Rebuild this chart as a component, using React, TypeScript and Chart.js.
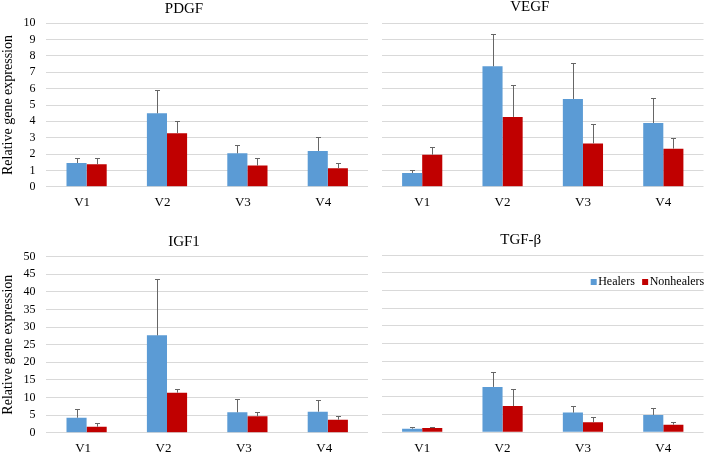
import React, { useEffect, useRef } from "react";
import { Chart, registerables } from "chart.js";

Chart.register(...registerables);

// ---------- data ----------
const visits = ["V1", "V2", "V3", "V4"];
const seriesNames = ["Healers", "Nonhealers"];
const seriesColors = ["#5B9BD5", "#C00000"];

const pdgfHealers = [1.45, 4.49, 2.04, 2.19];
const pdgfHealersErr = [0.28, 1.43, 0.51, 0.83];
const pdgfNonhealers = [1.37, 3.27, 1.29, 1.13];
const pdgfNonhealersErr = [0.36, 0.77, 0.49, 0.3];

const vegfHealers = [0.84, 7.37, 5.37, 3.9];
const vegfHealersErr = [0.18, 1.98, 2.18, 1.51];
const vegfNonhealers = [1.96, 4.27, 2.65, 2.33];
const vegfNonhealersErr = [0.47, 1.97, 1.19, 0.65];

const igf1Healers = [4.26, 27.65, 5.78, 5.97];
const igf1HealersErr = [2.37, 16.1, 3.78, 3.22];
const igf1Nonhealers = [1.7, 11.36, 4.64, 3.69];
const igf1NonhealersErr = [1.14, 1.04, 1.33, 0.95];

const tgfHealers = [1.03, 12.8, 5.55, 4.9];
const tgfHealersErr = [0.38, 4.1, 1.85, 1.9];
const tgfNonhealers = [1.22, 7.4, 2.8, 2.15];
const tgfNonhealersErr = [0.19, 4.7, 1.6, 0.75];

const yAxisTitle = "Relative gene expression";

const FONT = "'Liberation Serif', 'Times New Roman', serif";

// ---------- plugins ----------
const errorBarPlugin = {
  id: "errbars",
  afterDatasetsDraw(chart: any, _args: any, opts: any) {
    const errs: number[][] = opts.errors || [];
    const ctx = chart.ctx;
    const ys = chart.scales.y;
    ctx.save();
    ctx.strokeStyle = "#666666";
    ctx.lineWidth = 1;
    chart.data.datasets.forEach((ds: any, i: number) => {
      const meta = chart.getDatasetMeta(i);
      meta.data.forEach((bar: any, j: number) => {
        const e = errs[i] ? errs[i][j] : 0;
        if (!e) return;
        const v = ds.data[j];
        const x = Math.round(bar.x) + 0.5;
        const y0 = ys.getPixelForValue(v);
        const y1 = Math.round(ys.getPixelForValue(v + e)) + 0.5;
        ctx.beginPath();
        ctx.moveTo(x, y0);
        ctx.lineTo(x, y1);
        ctx.moveTo(x - 2.5, y1);
        ctx.lineTo(x + 2.5, y1);
        ctx.stroke();
      });
    });
    ctx.restore();
  },
};

const legendPlugin = {
  id: "customLegend",
  afterDraw(chart: any, _args: any, opts: any) {
    if (!opts || !opts.show) return;
    const ctx = chart.ctx;
    const area = chart.chartArea;
    ctx.save();
    ctx.font = `12px ${FONT}`;
    ctx.textBaseline = "middle";
    ctx.textAlign = "left";
    let x = area.right - 112.8;
    const cy = area.top + 27;
    chart.data.datasets.forEach((ds: any) => {
      ctx.fillStyle = ds.backgroundColor;
      ctx.fillRect(x, cy - 3, 6, 6);
      ctx.fillStyle = "#000";
      ctx.fillText(ds.label, x + 7.5, cy);
      x += 7.5 + ctx.measureText(ds.label).width + 7.3;
    });
    ctx.restore();
  },
};

// ---------- panel ----------
type PanelProps = {
  title: string;
  healers: number[];
  healersErr: number[];
  nonhealers: number[];
  nonhealersErr: number[];
  max: number;
  step: number;
  showTicks: boolean;
  left: number;
  top: number;
  width: number;
  height: number;
  yWidth: number;
  xHeight: number;
  padRight: number;
  titleTop: number;
  titleBottom: number;
  labelOffset: number;
  showLegend?: boolean;
};

function Panel(p: PanelProps) {
  const ref = useRef<HTMLCanvasElement | null>(null);
  useEffect(() => {
    if (!ref.current) return;
    const chart = new Chart(ref.current, {
      type: "bar",
      data: {
        labels: visits,
        datasets: [
          {
            label: seriesNames[0],
            data: p.healers,
            backgroundColor: seriesColors[0],
            categoryPercentage: 0.5,
            barPercentage: 1.0,
          },
          {
            label: seriesNames[1],
            data: p.nonhealers,
            backgroundColor: seriesColors[1],
            categoryPercentage: 0.5,
            barPercentage: 1.0,
          },
        ],
      },
      options: {
        animation: false,
        responsive: false,
        devicePixelRatio: 1,
        layout: { padding: { left: 0, right: p.padRight, top: 0, bottom: 0 } },
        plugins: {
          legend: { display: false },
          tooltip: { enabled: false },
          title: {
            display: true,
            text: p.title,
            color: "#000",
            font: { family: FONT, size: 15, weight: "normal", lineHeight: 1.2 },
            padding: { top: p.titleTop, bottom: p.titleBottom },
          },
          errbars: { errors: [p.healersErr, p.nonhealersErr] },
          customLegend: { show: !!p.showLegend },
        } as any,
        scales: {
          x: {
            grid: { display: false, drawTicks: false },
            border: { display: false },
            ticks: {
              color: "#000",
              font: { family: FONT, size: 13 },
              padding: 8,
              labelOffset: p.labelOffset,
            },
            afterFit: (s: any) => {
              s.height = p.xHeight;
            },
          },
          y: {
            min: 0,
            max: p.max,
            grid: { color: "#d9d9d9", drawTicks: false, lineWidth: 1 },
            border: { display: false },
            ticks: {
              display: p.showTicks,
              stepSize: p.step,
              autoSkip: false,
              color: "#000",
              font: { family: FONT, size: 12 },
              padding: 11,
            },
            title: {
              display: p.showTicks,
              text: yAxisTitle,
              color: "#000",
              font: { family: FONT, size: 14 },
              padding: { top: 0, bottom: 0 },
            },
            afterFit: (s: any) => {
              s.width = p.yWidth;
            },
          },
        },
      } as any,
      plugins: [errorBarPlugin, legendPlugin],
    });
    return () => chart.destroy();
  }, []);
  return (
    <canvas
      ref={ref}
      width={p.width}
      height={p.height}
      style={{ position: "absolute", left: p.left, top: p.top, width: p.width, height: p.height }}
    />
  );
}

export default function App() {
  return (
    <div
      style={{
        position: "absolute",
        left: 0,
        top: 0,
        width: 709,
        height: 452,
        overflow: "hidden",
        background: "#fff",
      }}
    >
      <Panel
        title="PDGF"
        healers={pdgfHealers}
        healersErr={pdgfHealersErr}
        nonhealers={pdgfNonhealers}
        nonhealersErr={pdgfNonhealersErr}
        max={10}
        step={1}
        showTicks={true}
        left={0}
        top={0}
        width={388}
        height={215}
        yWidth={46.4}
        xHeight={28.3}
        padRight={20}
        titleTop={0}
        titleBottom={5.3}
        labelOffset={-4.5}
      />
      <Panel
        title="VEGF"
        healers={vegfHealers}
        healersErr={vegfHealersErr}
        nonhealers={vegfNonhealers}
        nonhealersErr={vegfNonhealersErr}
        max={10}
        step={1}
        showTicks={false}
        left={356}
        top={-2}
        width={348}
        height={217}
        yWidth={26}
        xHeight={28.3}
        padRight={0.5}
        titleTop={0.3}
        titleBottom={7}
        labelOffset={0}
      />
      <Panel
        title="IGF1"
        healers={igf1Healers}
        healersErr={igf1HealersErr}
        nonhealers={igf1Nonhealers}
        nonhealersErr={igf1NonhealersErr}
        max={50}
        step={5}
        showTicks={true}
        left={0}
        top={225}
        width={384}
        height={236}
        yWidth={46.4}
        xHeight={28.3}
        padRight={16}
        titleTop={7.7}
        titleBottom={6}
        labelOffset={-3.5}
      />
      <Panel
        title="TGF-β"
        healers={tgfHealers}
        healersErr={tgfHealersErr}
        nonhealers={tgfNonhealers}
        nonhealersErr={tgfNonhealersErr}
        max={50}
        step={5}
        showTicks={false}
        left={338}
        top={225}
        width={371}
        height={236}
        yWidth={44}
        xHeight={28.7}
        padRight={5.5}
        titleTop={6}
        titleBottom={6}
        labelOffset={0}
        showLegend={true}
      />
    </div>
  );
}
